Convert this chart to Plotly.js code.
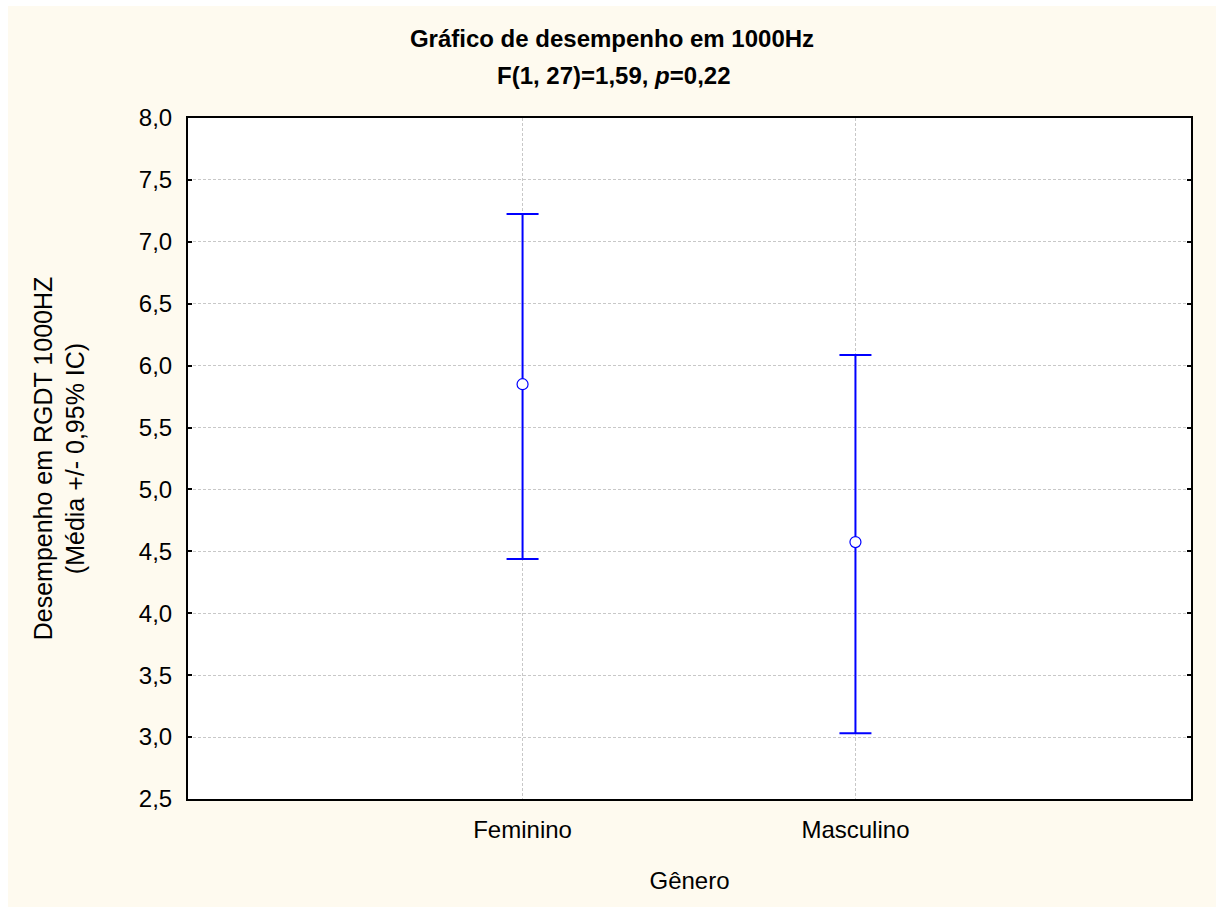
<!DOCTYPE html>
<html>
<head>
<meta charset="utf-8">
<script src="https://cdn.plot.ly/plotly-3.0.1.min.js"></script>
<style>
  html, body { margin: 0; padding: 0; background: #ffffff; }
  #chart { position: absolute; left: 8px; top: 6px; width: 1208px; height: 901px; }
</style>
</head>
<body>
<div id="chart"></div>
<script>
// Group labels
const categories = ['Feminino', 'Masculino'];
// Mean performance per group
const means = [5.85, 4.575];
// 95% confidence interval bounds
const upperCI = [7.225, 6.086];
const lowerCI = [4.438, 3.032];
// Y axis ticks
const yTicks = [2.5, 3.0, 3.5, 4.0, 4.5, 5.0, 5.5, 6.0, 6.5, 7.0, 7.5, 8.0];

const errPlus = upperCI.map((u, i) => u - means[i]);
const errMinus = lowerCI.map((l, i) => means[i] - l);

const font = 'Liberation Sans, Arial, sans-serif';

const trace = {
  type: 'scatter',
  mode: 'markers',
  x: [0, 1],
  y: means,
  marker: {
    symbol: 'circle',
    size: 11,
    color: '#ffffff',
    line: { color: '#0000ff', width: 1.2 }
  },
  error_y: {
    type: 'data',
    symmetric: false,
    array: errPlus,
    arrayminus: errMinus,
    color: '#0000ff',
    thickness: 2,
    width: 16
  },
  hoverinfo: 'skip'
};

const layout = {
  width: 1208,
  height: 901,
  paper_bgcolor: '#fefaef',
  plot_bgcolor: '#ffffff',
  separators: ',.',
  showlegend: false,
  margin: { l: 180, r: 25, t: 112, b: 108 },
  font: { family: font, color: '#000000', size: 22 },
  title: {
    text: '<b>Gráfico de desempenho em 1000Hz</b>',
    font: { family: font, size: 24, color: '#000000' },
    xref: 'container', x: 0.5, xanchor: 'center',
    yref: 'container', y: 1 - 33 / 901, yanchor: 'middle'
  },
  annotations: [{
    text: '<b>F(1, 27)=1,59, <i>p</i>=0,22</b>',
    font: { family: font, size: 24, color: '#000000' },
    xref: 'paper', x: (606 - 180) / 1003, xanchor: 'center',
    yref: 'paper', y: 1 + (112 - 70) / 681, yanchor: 'middle',
    showarrow: false
  }],
  xaxis: {
    range: [-1.005, 2.008],
    tickmode: 'array',
    tickvals: [0, 1],
    ticktext: categories,
    tickfont: { family: font, size: 24 },
    showline: true, linecolor: '#000000', linewidth: 2, mirror: true,
    showgrid: true, gridcolor: '#c8c8c8', gridwidth: 1, griddash: '3px,2px',
    zeroline: false,
    ticks: '', ticklabelstandoff: 8,
    title: { text: 'Gênero', font: { family: font, size: 24 }, standoff: 30 }
  },
  yaxis: {
    range: [2.5, 8.0],
    tickmode: 'array',
    tickvals: yTicks,
    tickformat: '.1f',
    tickfont: { family: font, size: 24 },
    showline: true, linecolor: '#000000', linewidth: 2, mirror: 'ticks',
    ticks: 'inside', ticklen: 4, tickwidth: 2, tickcolor: '#000000',
    showgrid: true, gridcolor: '#c8c8c8', gridwidth: 1, griddash: '3px,2px',
    zeroline: false,
    ticklabelstandoff: 9,
    title: {
      text: 'Desempenho em RGDT 1000HZ<br>(Média +/- 0,95% IC)',
      font: { family: font, size: 25 },
      standoff: 47
    }
  }
};

Plotly.newPlot('chart', [trace], layout, { staticPlot: true, displayModeBar: false });
</script>
</body>
</html>
